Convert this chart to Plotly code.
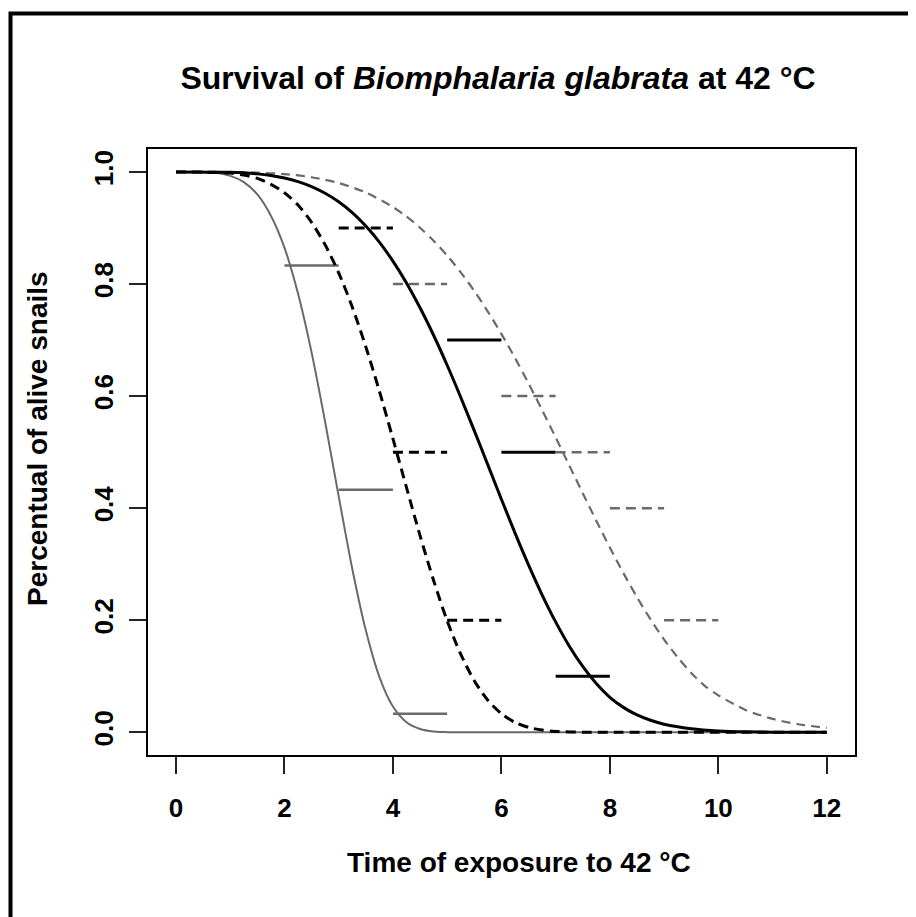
import plotly.graph_objects as go

# ---- data ----
# fitted survival curves (time in units, proportion alive)
t_gray_solid = [0, 0.5, 0.75, 1.0, 1.25, 1.5, 1.75, 2.0, 2.25, 2.5, 2.75, 3.0, 3.25, 3.5,
                3.75, 4.0, 4.25, 4.5, 4.75, 5.0, 5.5, 6.0, 8.0, 10.0, 12.0]
s_gray_solid = [1.0, 0.9997, 0.998, 0.993, 0.982, 0.960, 0.922, 0.865, 0.783, 0.678, 0.554,
                0.421, 0.292, 0.182, 0.099, 0.046, 0.018, 0.006, 0.0014, 0.0003, 0.0, 0.0,
                0.0, 0.0, 0.0]

t_black_dash = [0, 0.5, 1.0, 1.25, 1.5, 1.75, 2.0, 2.25, 2.5, 2.75, 3.0, 3.25, 3.5, 3.75,
                4.0, 4.25, 4.5, 4.75, 5.0, 5.25, 5.5, 5.75, 6.0, 6.25, 6.5, 6.75, 7.0, 7.5,
                8.0, 10.0, 12.0]
s_black_dash = [1.0, 0.9999, 0.998, 0.9945, 0.9885, 0.978, 0.963, 0.941, 0.910, 0.870, 0.820,
                0.759, 0.688, 0.609, 0.524, 0.437, 0.351, 0.271, 0.199, 0.1395, 0.0922,
                0.0573, 0.0332, 0.0178, 0.0088, 0.004, 0.0016, 0.0002, 0.0, 0.0, 0.0]

t_black_solid = [0, 1.0, 1.5, 1.75, 2.0, 2.25, 2.5, 2.75, 3.0, 3.25, 3.5, 3.75, 4.0, 4.25,
                 4.5, 4.75, 5.0, 5.25, 5.5, 5.75, 6.0, 6.25, 6.5, 6.75, 7.0, 7.25, 7.5, 7.75,
                 8.0, 8.25, 8.5, 8.75, 9.0, 9.5, 10.0, 10.5, 11.0, 12.0]
s_black_solid = [1.0, 0.9993, 0.9966, 0.9937, 0.9892, 0.9828, 0.9739, 0.962, 0.9467, 0.9273,
                 0.9034, 0.8748, 0.8409, 0.8019, 0.7577, 0.7086, 0.6551, 0.598, 0.5383,
                 0.4773, 0.416, 0.356, 0.2988, 0.2454, 0.197, 0.1541, 0.1175, 0.087, 0.0625,
                 0.0445, 0.031, 0.0215, 0.0145, 0.0065, 0.0025, 0.0008, 0.0002, 0.0]

t_gray_dash = [0, 1.0, 1.5, 2.0, 2.5, 3.0, 3.5, 4.0, 4.25, 4.5, 4.75, 5.0, 5.25, 5.5, 5.75,
               6.0, 6.25, 6.5, 6.75, 7.0, 7.25, 7.5, 7.75, 8.0, 8.25, 8.5, 8.75, 9.0, 9.25,
               9.5, 9.75, 10.0, 10.5, 11.0, 11.5, 12.0]
s_gray_dash = [1.0, 0.9998, 0.9988, 0.9962, 0.9906, 0.9803, 0.9633, 0.9374, 0.9204, 0.9004,
               0.8773, 0.8509, 0.8209, 0.7877, 0.7509, 0.711, 0.6682, 0.6228, 0.5753, 0.5264,
               0.4766, 0.4268, 0.3776, 0.3298, 0.2841, 0.2412, 0.2016, 0.1656, 0.1338, 0.106,
               0.083, 0.066, 0.040, 0.024, 0.014, 0.008]

# observed proportions (horizontal step segments): start, end, level
obs_gray_solid_start = [2, 3, 4]
obs_gray_solid_end = [3, 4, 5]
obs_gray_solid_level = [0.833, 0.433, 0.033]

obs_black_dash_start = [3, 4, 5]
obs_black_dash_end = [4, 5, 6]
obs_black_dash_level = [0.9, 0.5, 0.2]

obs_black_solid_start = [5, 6, 7]
obs_black_solid_end = [6, 7, 8]
obs_black_solid_level = [0.7, 0.5, 0.1]

obs_gray_dash_start = [4, 6, 7, 8, 9]
obs_gray_dash_end = [5, 7, 8, 9, 10]
obs_gray_dash_level = [0.8, 0.6, 0.5, 0.4, 0.2]

x_ticks = [0, 2, 4, 6, 8, 10, 12]
y_ticks = [0.0, 0.2, 0.4, 0.6, 0.8, 1.0]
y_tick_text = ["0.0", "0.2", "0.4", "0.6", "0.8", "1.0"]

GRAY = "#6a6a6a"
BLACK = "#000000"
FONT = "Liberation Sans"


def segs(starts, ends, levels):
    xs, ys = [], []
    for a, b, v in zip(starts, ends, levels):
        xs += [a, b, None]
        ys += [v, v, None]
    return xs, ys


fig = go.Figure()

# step segments
for st, en, lv, col, w, dash in [
    (obs_gray_solid_start, obs_gray_solid_end, obs_gray_solid_level, GRAY, 2.5, "solid"),
    (obs_black_dash_start, obs_black_dash_end, obs_black_dash_level, BLACK, 3, "10px,6px"),
    (obs_black_solid_start, obs_black_solid_end, obs_black_solid_level, BLACK, 3, "solid"),
    (obs_gray_dash_start, obs_gray_dash_end, obs_gray_dash_level, GRAY, 2.5, "10px,6px"),
]:
    xs, ys = segs(st, en, lv)
    fig.add_trace(go.Scatter(x=xs, y=ys, mode="lines",
                             line=dict(color=col, width=w, dash=dash),
                             hoverinfo="skip"))

# fitted curves
for tx, sy, col, w, dash in [
    (t_gray_dash, s_gray_dash, GRAY, 2.2, "9px,6px"),
    (t_gray_solid, s_gray_solid, GRAY, 2.0, "solid"),
    (t_black_solid, s_black_solid, BLACK, 3.0, "solid"),
    (t_black_dash, s_black_dash, BLACK, 3.0, "10px,6px"),
]:
    fig.add_trace(go.Scatter(x=tx, y=sy, mode="lines",
                             line=dict(color=col, width=w, dash=dash, shape="spline",
                                       smoothing=0.8)))

# the page body has an 8px default margin: work in window pixels, then shift
OFF = 8
W, H = 916 - OFF, 917 - OFF
L, R, T, B = 148 - OFF, 855 - OFF, 149 - OFF, 755 - OFF
pw, ph = R - L, B - T


def px_x(p):
    return (p - OFF - L) / pw


def px_y(p):
    return (B - (p - OFF)) / ph


fig.update_layout(
    width=W, height=H,
    margin=dict(l=L, r=W - R, t=T, b=H - B),
    paper_bgcolor="white", plot_bgcolor="white",
    showlegend=False,
    title=dict(text="Survival of <i>Biomphalaria glabrata</i> at 42 °C",
               font=dict(family=FONT, size=32, color="black", weight="bold"),
               x=px_x(498), xref="paper", xanchor="center",
               y=1 - (78 - OFF) / H, yref="container", yanchor="middle"),
    xaxis=dict(range=[-0.516, 12.52], tickvals=x_ticks, showgrid=False, zeroline=False,
               showline=True, mirror=True, linecolor="black", linewidth=2,
               ticks="outside", ticklen=17, tickwidth=2, tickcolor="#222",
               tickfont=dict(family=FONT, size=26, color="black", weight="bold"),
               ticklabelstandoff=12),
    yaxis=dict(range=[-0.0405, 1.041], tickvals=y_ticks, ticktext=y_tick_text,
               showgrid=False, zeroline=False,
               showline=True, mirror=True, linecolor="black", linewidth=2,
               ticks="outside", ticklen=17, tickwidth=2, tickcolor="#222",
               tickangle=-90,
               tickfont=dict(family=FONT, size=26, color="black", weight="bold"),
               ticklabelstandoff=6),
)

fig.add_annotation(text="Time of exposure to 42 °C", x=px_x(519), y=px_y(862),
                   xref="paper", yref="paper", showarrow=False,
                   xanchor="center", yanchor="middle",
                   font=dict(family=FONT, size=28, color="black", weight="bold"))
fig.add_annotation(text="Percentual of alive snails", x=px_x(37), y=px_y(439),
                   xref="paper", yref="paper", showarrow=False, textangle=-90,
                   xanchor="center", yanchor="middle",
                   font=dict(family=FONT, size=28, color="black", weight="bold"))

# outer frame of the figure (only top and left edges visible)
fig.add_shape(type="rect", xref="paper", yref="paper",
              x0=px_x(10.5), x1=px_x(940), y0=px_y(940), y1=px_y(13.5),
              line=dict(color="black", width=4), layer="above")

fig.write_html("out.html")
